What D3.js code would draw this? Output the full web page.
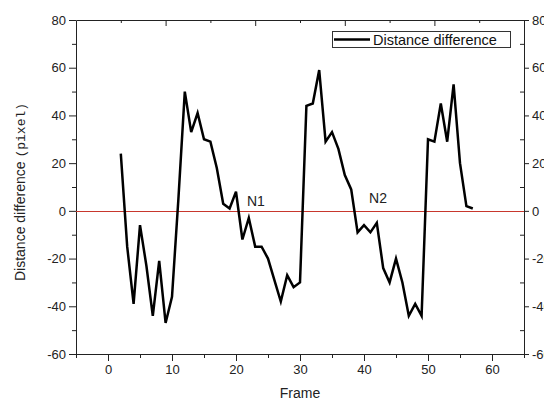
<!DOCTYPE html>
<html>
<head>
<meta charset="utf-8">
<script src="https://cdn.jsdelivr.net/npm/d3@7"></script>
<style>
  body { margin: 0; background: #fff; }
  svg { display: block; font-family: "Liberation Sans", Arial, sans-serif; }
</style>
</head>
<body>
<svg id="chart"></svg>
<script>
// frame numbers and measured distance difference (pixel)
const frames = d3.range(2, 58);
const distDiff = [24, -15, -39, -6, -23, -44, -21, -47, -36, 5,
                  50, 33, 41, 30, 29, 18, 3, 1, 8, -12,
                  -3, -15, -15, -20, -29, -38, -27, -32, -30, 44,
                  45, 59, 29, 33, 26, 15, 9, -9, -6, -9,
                  -5, -24, -30, -20, -30, -44, -39, -44, 30, 29,
                  45, 29, 53, 20, 2, 1];

const xMajor = [0, 10, 20, 30, 40, 50, 60];
const xMinor = [-5, 5, 15, 25, 35, 45, 55, 65];
const topMajor = [9, 23, 37, 51];
const topMinor = [2, 16, 30, 44, 58];
const yMajor = [-60, -40, -20, 0, 20, 40, 60, 80];
const yMinor = [-50, -30, -10, 10, 30, 50, 70];

const notes = [{label: "N1", x: 21.7, y: 2}, {label: "N2", x: 40.8, y: 3.5}];
const legendLabel = "Distance difference";

let width = 544
let height = 400
let marginTop = 20
let marginRight = 20
let marginBottom = 46
let marginLeft = 76
let axisColor = "#222"
let zeroColor = "#c8372d"
const fmt = d => String(d) // plain hyphen minus, like the original

const svg = d3.select("#chart")
    .attr("width", width)
    .attr("height", height)
    .attr("viewBox", [0, 0, width, height]);

const xScale = d3.scaleLinear([-5, 65], [marginLeft, width - marginRight]);
const yScale = d3.scaleLinear([-60, 80], [height - marginBottom, marginTop]);

const styleAxis = g => {
    g.selectAll("path, line").attr("stroke", axisColor);
    g.selectAll("text").attr("fill", axisColor)
        .attr("font-size", 13)
        .attr("font-family", "Liberation Sans, Arial, sans-serif");
};

// bottom axis
svg.append("g")
    .attr("transform", `translate(0,${height - marginBottom})`)
    .call(d3.axisBottom(xScale).tickValues(xMajor).tickFormat(fmt).tickSize(7).tickPadding(4).tickSizeOuter(0))
    .call(styleAxis);
svg.append("g")
    .attr("transform", `translate(0,${height - marginBottom})`)
    .call(d3.axisBottom(xScale).tickValues(xMinor).tickSize(4).tickFormat("").tickSizeOuter(0))
    .call(g => g.select(".domain").remove())
    .call(styleAxis);

// top axis, ticks pointing inward
svg.append("g")
    .attr("transform", `translate(0,${marginTop})`)
    .call(d3.axisBottom(xScale).tickValues(topMajor).tickSize(6).tickFormat("").tickSizeOuter(0))
    .call(styleAxis);
svg.append("g")
    .attr("transform", `translate(0,${marginTop})`)
    .call(d3.axisBottom(xScale).tickValues(topMinor).tickSize(3).tickFormat("").tickSizeOuter(0))
    .call(g => g.select(".domain").remove())
    .call(styleAxis);

// left axis
svg.append("g")
    .attr("transform", `translate(${marginLeft},0)`)
    .call(d3.axisLeft(yScale).tickValues(yMajor).tickFormat(fmt).tickSize(7).tickPadding(3).tickSizeOuter(0))
    .call(styleAxis);
svg.append("g")
    .attr("transform", `translate(${marginLeft},0)`)
    .call(d3.axisLeft(yScale).tickValues(yMinor).tickSize(4).tickFormat("").tickSizeOuter(0))
    .call(g => g.select(".domain").remove())
    .call(styleAxis);

// right axis: major outward, minor inward (labels run off the edge as in the original)
svg.append("g")
    .attr("transform", `translate(${width - marginRight},0)`)
    .call(d3.axisRight(yScale).tickValues(yMajor).tickFormat(fmt).tickSize(5).tickPadding(3).tickSizeOuter(0))
    .call(styleAxis);
svg.append("g")
    .attr("transform", `translate(${width - marginRight},0)`)
    .call(d3.axisLeft(yScale).tickValues(yMinor).tickSize(4).tickFormat("").tickSizeOuter(0))
    .call(g => g.select(".domain").remove())
    .call(styleAxis);

// zero reference line
svg.append("line")
    .attr("x1", xScale(-5)).attr("x2", xScale(65))
    .attr("y1", Math.round(yScale(0)) + 0.5).attr("y2", Math.round(yScale(0)) + 0.5)
    .attr("stroke", zeroColor)
    .attr("stroke-width", 1);

// the data line
const line = d3.line()
    .x((d, i) => xScale(frames[i]))
    .y(d => yScale(d));

svg.append("path")
    .datum(distDiff)
    .attr("fill", "none")
    .attr("stroke", "#000")
    .attr("stroke-width", 2.5)
    .attr("stroke-linejoin", "miter")
    .attr("d", line);

// annotations
svg.selectAll(".note")
    .data(notes)
    .join("text")
    .attr("class", "note")
    .attr("x", d => xScale(d.x))
    .attr("y", d => yScale(d.y))
    .attr("font-size", 14)
    .attr("fill", "#222")
    .text(d => d.label);

// legend
const legend = svg.append("g").attr("transform", "translate(332,31)");
legend.append("rect")
    .attr("x", 0.5).attr("y", 0.5)
    .attr("width", 178).attr("height", 16)
    .attr("fill", "#fff")
    .attr("stroke", "#333");
legend.append("line")
    .attr("x1", 2).attr("x2", 38)
    .attr("y1", 8.5).attr("y2", 8.5)
    .attr("stroke", "#000")
    .attr("stroke-width", 2.5);
legend.append("text")
    .attr("x", 41).attr("y", 13.5)
    .attr("font-size", 14.5)
    .attr("fill", "#111")
    .text(legendLabel);

// axis titles
svg.append("text")
    .attr("x", xScale(30))
    .attr("y", 398)
    .attr("text-anchor", "middle")
    .attr("font-size", 14)
    .attr("fill", "#222")
    .text("Frame");

const yTitle = svg.append("text")
    .attr("transform", `translate(25,${192}) rotate(-90)`)
    .attr("text-anchor", "middle")
    .attr("font-size", 14)
    .attr("fill", "#222");
yTitle.append("tspan").text("Distance difference ");
yTitle.append("tspan")
    .attr("font-family", "Liberation Mono, Courier New, monospace")
    .attr("font-size", 13)
    .text("(pixel)");
</script>
</body>
</html>
